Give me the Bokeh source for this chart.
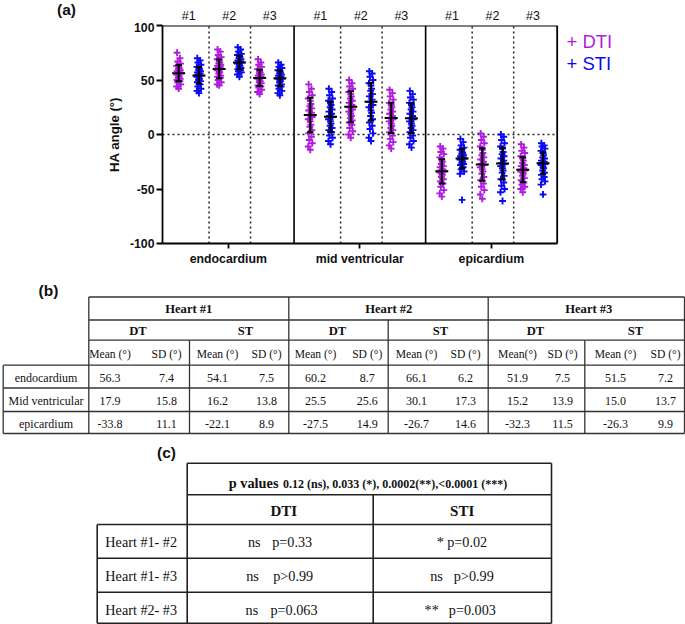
from bokeh.plotting import figure
from bokeh.models import Range1d, FixedTicker
from bokeh.layouts import column
from bokeh.embed import file_html
from bokeh.resources import INLINE
from bokeh.core.properties import value

# ---------------- data ----------------
regions = ["endocardium", "mid ventricular", "epicardium"]
hearts = ["#1", "#2", "#3"]
modalities = ["DTI", "STI"]

# table (b): means and SDs (rows: endo, mid, epi; columns: heart 1..3)
dt_mean = [[56.3, 60.2, 51.9], [17.9, 25.5, 15.2], [-33.8, -27.5, -32.3]]
dt_sd = [[7.4, 8.7, 7.5], [15.8, 25.6, 13.9], [11.1, 14.9, 11.5]]
st_mean = [[54.1, 66.1, 51.5], [16.2, 30.1, 15.0], [-22.1, -26.7, -26.3]]
st_sd = [[7.5, 6.2, 7.2], [13.8, 17.3, 13.7], [8.9, 14.6, 9.9]]
# error bars as drawn in panel (a)
dti_bar_sd = [[7.4, 8.7, 7.5], [15.8, 14.2, 13.9], [11.1, 14.9, 11.5]]
sti_bar_sd = [[7.5, 6.2, 7.2], [13.8, 17.3, 13.7], [8.9, 14.6, 9.9]]

# individual HA angles (read approximately from the clouds)
endo_dti_1 = [42, 44, 46, 48, 49, 50, 51, 52, 53, 54, 55, 56, 56, 57, 58, 59, 60, 61, 62, 63, 65, 67, 70, 75]
endo_sti_1 = [38, 40, 42, 44, 46, 48, 49, 50, 51, 52, 53, 54, 55, 56, 57, 58, 59, 60, 61, 62, 64, 66, 68, 70]
endo_dti_2 = [45, 46, 48, 50, 52, 53, 54, 56, 57, 58, 59, 60, 61, 62, 63, 64, 65, 66, 67, 69, 71, 73, 76, 78]
endo_sti_2 = [53, 55, 57, 58, 59, 60, 61, 62, 63, 64, 65, 66, 66, 67, 68, 69, 70, 71, 72, 73, 74, 76, 78, 80]
endo_dti_3 = [37, 39, 41, 43, 44, 45, 47, 48, 49, 50, 51, 52, 52, 53, 54, 55, 56, 57, 58, 60, 62, 64, 66, 69]
endo_sti_3 = [36, 38, 40, 42, 44, 45, 46, 48, 49, 50, 51, 51, 52, 53, 54, 55, 56, 57, 58, 59, 61, 62, 64, 66]
mid_dti_1 = [-14, -11, -8, -5, -2, 1, 4, 7, 9, 12, 14, 16, 18, 20, 22, 24, 26, 28, 31, 33, 36, 39, 42, 46]
mid_sti_1 = [-9, -6, -3, -1, 2, 4, 6, 8, 10, 12, 14, 16, 17, 19, 21, 23, 25, 27, 29, 31, 33, 36, 39, 42]
mid_dti_2 = [-3, 0, 3, 6, 9, 11, 13, 15, 17, 19, 21, 23, 25, 27, 29, 31, 33, 35, 37, 39, 42, 44, 47, 50]
mid_sti_2 = [-6, -3, 1, 5, 8, 11, 14, 17, 20, 22, 25, 27, 30, 32, 35, 37, 40, 42, 45, 47, 50, 53, 56, 58]
mid_dti_3 = [-13, -10, -7, -4, -1, 2, 4, 6, 8, 10, 12, 14, 15, 17, 19, 21, 23, 25, 27, 29, 32, 35, 38, 41]
mid_sti_3 = [-12, -9, -6, -3, -1, 2, 4, 6, 8, 10, 12, 14, 15, 17, 19, 21, 23, 25, 27, 29, 32, 34, 37, 40]
epi_dti_1 = [-57, -54, -51, -48, -45, -43, -41, -39, -37, -36, -35, -34, -33, -32, -30, -29, -27, -25, -23, -21, -18, -16, -13, -11]
epi_sti_1 = [-60, -36, -34, -32, -30, -28, -27, -26, -25, -24, -23, -22, -22, -21, -20, -19, -18, -17, -16, -14, -12, -10, -7, -4]
epi_dti_2 = [-59, -55, -51, -48, -45, -42, -39, -36, -34, -32, -30, -28, -27, -25, -23, -21, -19, -17, -14, -11, -8, -5, -2, 1]
epi_sti_2 = [-61, -53, -50, -47, -44, -41, -38, -35, -33, -31, -29, -27, -26, -24, -22, -20, -18, -16, -13, -11, -8, -5, -2, 0]
epi_dti_3 = [-53, -50, -48, -46, -44, -42, -40, -38, -36, -35, -34, -33, -32, -31, -29, -28, -26, -24, -22, -20, -17, -15, -12, -9]
epi_sti_3 = [-55, -46, -43, -41, -39, -37, -35, -33, -31, -30, -28, -27, -26, -25, -24, -22, -21, -19, -17, -15, -13, -11, -10, -8]

dti_points = [[endo_dti_1, endo_dti_2, endo_dti_3], [mid_dti_1, mid_dti_2, mid_dti_3], [epi_dti_1, epi_dti_2, epi_dti_3]]
sti_points = [[endo_sti_1, endo_sti_2, endo_sti_3], [mid_sti_1, mid_sti_2, mid_sti_3], [epi_sti_1, epi_sti_2, epi_sti_3]]

y_ticks = [-100, -50, 0, 50, 100]

# table (b) texts
tbl_rows = ["endocardium", "Mid ventricular", "epicardium"]
heart_heads = ["Heart #1", "Heart #2", "Heart #3"]
mod_heads = ["DT", "ST"]
sub_heads = ["Mean (°)", "SD (°)", "Mean (°)", "SD (°)",
             "Mean (°)", "SD (°)", "Mean (°)", "SD (°)",
             "Mean(°)", "SD (°)", "Mean (°)", "SD (°)"]

# table (c)
pv_title = "p values"
pv_legend = "0.12 (ns), 0.033 (*), 0.0002(**),<0.0001 (***)"
cmp_rows = ["Heart #1- #2", "Heart #1- #3", "Heart #2- #3"]
dti_sig = ["ns", "ns", "ns"]
dti_p = ["p=0.33", "p>0.99", "p=0.063"]
sti_sig = ["*", "ns", "**"]
sti_p = ["p=0.02", "p>0.99", "p=0.003"]

# ---------------- styles / geometry ----------------
MAG = "#B01CDD"
BLU = "#0A0AF2"
SANS = "Liberation Sans"
SERIF = "Liberation Serif"
W = 685
UNIT = 20.24      # px per x unit in panel (a)
X0 = 162.0        # x of the left axis
PW = 6.5          # panel width in x units

def fs(px):
    return "%.1fpx" % px

def slot_x(r, h, m):
    return r * PW + 0.8 + 2 * h + m

def ref_x(xu):
    return X0 + xu * UNIT

def blank_fig(h, y0, y1):
    f = figure(width=W, height=h, x_range=Range1d(0, W), y_range=Range1d(y1, y0),
               min_border=0, x_axis_type=None, y_axis_type=None, output_backend="svg",
               toolbar_location=None)
    f.outline_line_color = None
    f.background_fill_color = "white"
    f.border_fill_color = "white"
    f.frame_align = False
    return f

def txt(f, xs, ys, texts, size, style="normal", align="center", font=SERIF, color="#111111"):
    f.text(xs, ys, text=texts, text_font=value(font), text_font_size=fs(size),
           text_font_style=style, text_align=align, text_baseline="middle", text_color=color)

# ---------------- top strip: (a) and heart numbers ----------------
HS = 22
ps = blank_fig(HS, 0, HS)
txt(ps, [66], [9], ["(a)"], 15.5, "bold", font=SANS)
hx, hy, ht = [], [], []
for r in range(len(regions)):
    for h, lab in enumerate(hearts):
        hx.append(ref_x(slot_x(r, h, 0) + 0.5))
        hy.append(15)
        ht.append(lab)
txt(ps, hx, hy, ht, 12.5, font=SANS)

# ---------------- panel (a) ----------------
HA = 253
ML, MT, FH = 162, 3, 218
FW = W - ML
pa = figure(frame_width=FW, frame_height=FH, min_border_left=ML, min_border_right=0,
            min_border_top=MT, min_border_bottom=HA - MT - FH,
            x_range=Range1d(0, FW / UNIT), y_range=Range1d(-100, 100),
            output_backend="svg", toolbar_location=None)
pa.frame_align = False
pa.xgrid.visible = False
pa.ygrid.visible = False
pa.outline_line_color = None
pa.background_fill_color = "white"
pa.border_fill_color = "white"

XMAX = len(regions) * PW
for ax in (pa.xaxis, pa.yaxis):
    ax.axis_line_width = 1.8
    ax.axis_line_color = "black"
    ax.major_tick_line_width = 1.8
    ax.major_tick_line_color = "black"
    ax.major_tick_in = 0
    ax.minor_tick_line_color = None
    ax.major_label_text_font = SANS
    ax.major_label_text_font_style = "bold"
    ax.major_label_text_font_size = fs(12.3)
    ax.major_label_text_color = "#111111"

pa.yaxis.ticker = FixedTicker(ticks=y_ticks)
pa.yaxis.major_label_overrides = {t: str(t) for t in y_ticks}
pa.yaxis.major_tick_out = 6
pa.yaxis.major_label_standoff = 2
pa.yaxis.axis_label = "HA angle (°)"
pa.yaxis.axis_label_text_font = SANS
pa.yaxis.axis_label_text_font_style = "bold"
pa.yaxis.axis_label_text_font_size = fs(13.2)
pa.yaxis.axis_label_text_color = "#111111"
pa.yaxis.axis_label_standoff = 5

centers = [r * PW + PW / 2 for r in range(len(regions))]
pa.xaxis.ticker = FixedTicker(ticks=centers)
pa.xaxis.major_label_overrides = {c: name for c, name in zip(centers, regions)}
pa.xaxis.major_tick_out = 5
pa.xaxis.major_label_standoff = 3
pa.xaxis.bounds = (0, XMAX)

# frame top/right and panel separators
pa.segment([0, XMAX], [100, -100], [XMAX, XMAX], [100, 100], line_color="black", line_width=1.8)
pa.segment([r * PW for r in range(1, len(regions))], [-100] * (len(regions) - 1),
           [r * PW for r in range(1, len(regions))], [100] * (len(regions) - 1),
           line_color="black", line_width=1.6)
dx = [r * PW + off for r in range(len(regions)) for off in (2.3, 4.35)]
pa.segment(dx, [-100] * len(dx), dx, [100] * len(dx), line_color="#222222", line_width=1.5,
           line_dash="2 3")
pa.segment([0], [0], [XMAX], [0], line_color="#222222", line_width=1.5, line_dash="2 3")

JIT = [0.0, -0.1, 0.1, -0.05, 0.06, -0.08, 0.08, -0.02, 0.03]

seg_x0, seg_y0, seg_x1, seg_y1 = [], [], [], []
for m, (pts, means, sds, col) in enumerate([(dti_points, dt_mean, dti_bar_sd, MAG),
                                            (sti_points, st_mean, sti_bar_sd, BLU)]):
    xs, ys = [], []
    for r in range(len(regions)):
        for h in range(len(hearts)):
            xc = slot_x(r, h, m)
            for i, v in enumerate(pts[r][h]):
                xs.append(xc + JIT[i % len(JIT)])
                ys.append(v)
            mu, sd = means[r][h], sds[r][h]
            seg_x0 += [xc, xc - 0.16, xc - 0.16, xc - 0.32]
            seg_x1 += [xc, xc + 0.16, xc + 0.16, xc + 0.32]
            seg_y0 += [mu - sd, mu - sd, mu + sd, mu]
            seg_y1 += [mu + sd, mu - sd, mu + sd, mu]
    pa.scatter(xs, ys, marker="cross", size=6.8, line_width=1.9, line_color=col)

pa.segment(seg_x0, seg_y0, seg_x1, seg_y1, line_color="black", line_width=2)

# legend as coloured text
def xd(rx):
    return (rx - X0) / UNIT

def yd(ry):
    return (133.85 - ry) / 1.0885

pa.text([xd(566)], [yd(41)], text=["+ " + modalities[0]], text_font=value(SANS), text_font_size=fs(18.5),
        text_align="left", text_baseline="middle", text_color=MAG)
pa.text([xd(566)], [yd(63)], text=["+ " + modalities[1]], text_font=value(SANS), text_font_size=fs(18.5),
        text_align="left", text_baseline="middle", text_color=BLU)

# ---------------- tables (b) and (c) ----------------
HB = 624 - HS - HA
pb = blank_fig(HB, 275.0, 624.0)

LC = "#333333"
hb = [(296.5, 88.3, 684), (319.5, 88.3, 684), (339.7, 88.3, 684), (364.7, 2.7, 684),
      (387.5, 2.7, 684), (411.0, 2.7, 684), (433.0, 2.7, 684)]
vb = [(2.7, 364.7, 433), (88.3, 296.5, 433), (288.3, 296.5, 433), (487.7, 296.5, 433),
      (684.0, 296.5, 433), (189.0, 339.7, 433), (387.7, 319.5, 433), (584.3, 339.7, 433)]
pb.segment([a for _, a, _ in hb], [y for y, _, _ in hb], [b for _, _, b in hb], [y for y, _, _ in hb],
           line_color=LC, line_width=1.3)
pb.segment([x for x, _, _ in vb], [a for _, a, _ in vb], [x for x, _, _ in vb], [b for _, _, b in vb],
           line_color=LC, line_width=1.3)

txt(pb, [188.3, 388.3, 588.3], [308.5] * 3, heart_heads, 12.6, "bold")
txt(pb, [137.5, 245, 337, 440, 535, 635], [330] * 6, mod_heads * 3, 12.6, "bold")
sub_x = [109.5, 166, 217, 266, 315, 366.7, 416, 465, 517, 562, 615, 665]
txt(pb, sub_x, [354] * 12, sub_heads, 11.6)
row_y = [377, 400.5, 423.5]
txt(pb, [45.5] * 3, row_y, tbl_rows, 12.0)
vx, vy, vt = [], [], []
for r in range(len(tbl_rows)):
    vals = []
    for h in range(len(hearts)):
        vals += [dt_mean[r][h], dt_sd[r][h], st_mean[r][h], st_sd[r][h]]
    for x, v in zip(sub_x, vals):
        vx.append(x)
        vy.append(row_y[r])
        vt.append("%.1f" % v)
txt(pb, vx, vy, vt, 12.0)

hc = [(462.7, 186.7, 551), (494.3, 186.7, 551), (524.0, 96.7, 551), (557.7, 96.7, 551),
      (591.7, 96.7, 551), (622.8, 96.7, 551)]
vc = [(96.7, 524.0, 622.8), (186.7, 462.7, 622.8), (372.7, 494.3, 622.8), (551.0, 462.7, 622.8)]
pb.segment([a for _, a, _ in hc], [y for y, _, _ in hc], [b for _, _, b in hc], [y for y, _, _ in hc],
           line_color="#222222", line_width=1.6)
pb.segment([x for x, _, _ in vc], [a for _, a, _ in vc], [x for x, _, _ in vc], [b for _, _, b in vc],
           line_color="#222222", line_width=1.6)

txt(pb, [228.3], [482.7], [pv_title], 14.3, "bold", align="left")
txt(pb, [282.5], [483.2], [pv_legend], 12.0, "bold", align="left")
txt(pb, [283.3, 461.7], [510.5, 510.5], list(modalities), 15.0, "bold")
c_row_y = [541.5, 575.5, 609.0]
txt(pb, [140.7] * 3, c_row_y, cmp_rows, 14.2)
txt(pb, [260, 258.3, 257.7], c_row_y, dti_sig, 14.2, align="right")
txt(pb, [271.7, 272.7, 270.0], c_row_y, dti_p, 14.2, align="left")
txt(pb, [443.3, 442.3, 438.3], c_row_y, sti_sig, 14.2, align="right")
txt(pb, [446.7, 453.3, 448.3], c_row_y, sti_p, 14.2, align="left")

txt(pb, [48, 166], [290, 452], ["(b)", "(c)"], 15.5, "bold", font=SANS)

layout = column(ps, pa, pb, spacing=0)
open("out.html", "w").write(file_html(layout, INLINE))
